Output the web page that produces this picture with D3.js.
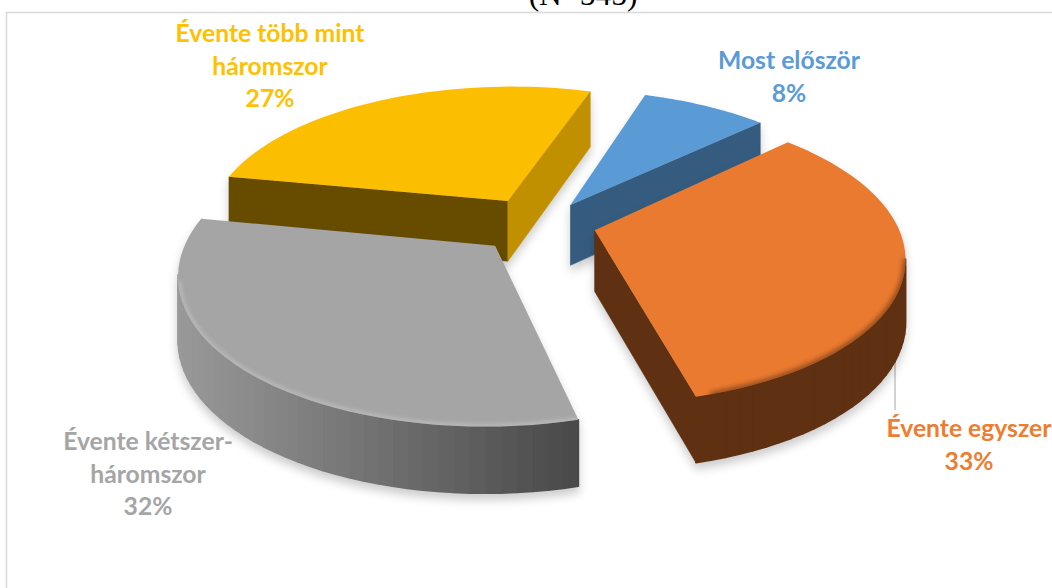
<!DOCTYPE html>
<html><head><meta charset="utf-8">
<script src="https://cdn.jsdelivr.net/npm/d3@7/dist/d3.min.js"></script>
<style>html,body{margin:0;background:#fff}svg{display:block}</style></head>
<body><svg id="c" width="1052" height="588"></svg>
<script>
const categories=["Most először","Évente egyszer","Évente kétszer-háromszor","Évente több mint háromszor"];
const values=[8,33,32,27];
const labelLines=[["Most először","8%"],["Évente egyszer","33%"],["Évente kétszer-","háromszor","32%"],["Évente több mint","háromszor","27%"]];
const topColors=["#5b9bd5","#e97a30","#a5a5a5","#fbbe00"];
const textColors=["#5b9bd5","#ed7d31","#a5a5a5","#ffc000"];
const startSideColors=["#355c7f","#5f3112","#555","#674c00"];
const endSideColors=["#355c7f","#5f3112","#555","#c09000"];
const arcSideFrom=["#355c7f","#5f3112","#4a4a4a","#674c00"];
const arcSideTo=["#355c7f","#5f3112","#959595","#674c00"];
const explode=[0.18,0.18,0.225,0.195];
const nudgeX=[2,2,3,-3];
const nudgeY=[1,-2,-3,-1];
const labelPos=[[789,69],[969,437],[148,450],[270,42]];
const paintOrder=[0,3,1,2];

const cx=540,cy=225,Rx=302,Ry=141,k=0.17,depth=61,startDeg=18;
const svg=d3.select("#c");
const defs=svg.append("defs");
defs.append("filter").attr("id","soft").attr("x","-10%").attr("y","-10%").attr("width","120%").attr("height","120%")
  .append("feGaussianBlur").attr("stdDeviation",2.4);

svg.append("path").attr("d","M1060,12.5H6.5V600").attr("fill","none").attr("stroke","#d9d9d9").attr("stroke-width",1.5);
svg.append("text").text("(N=545)").attr("x",583).attr("y",5).attr("text-anchor","middle")
  .attr("font-family","Liberation Serif").attr("font-size",31.5).attr("fill","#000");
// leader line, behind the slices
svg.append("line").attr("x1",895).attr("x2",895).attr("y1",330).attr("y2",410).attr("stroke","#a6a6a6").attr("stroke-width",1);

const pie=d3.pie().sort(null).startAngle(startDeg*Math.PI/180).endAngle((360+startDeg)*Math.PI/180);
const arcs=pie(values);
const lineGen=d3.line();

arcs.forEach(a=>{a.mid=(a.startAngle+a.endAngle)/2;});
paintOrder.forEach(i=>{
  const a=arcs[i];
  const proj=(X,Y)=>{const w=1+k*Y;return [cx+nudgeX[i]+Rx*X/w,cy+nudgeY[i]-Ry*Y/w];};
  const drop=(X,Y)=>depth*(1-0.08*Y);
  const ox=explode[i]*Math.sin(a.mid),oy=explode[i]*Math.cos(a.mid);
  const n=48;
  const world=d3.range(n+1).map(j=>{const t=a.startAngle+(a.endAngle-a.startAngle)*j/n;return [ox+Math.sin(t),oy+Math.cos(t)];});
  const apex=[ox,oy];
  const top=p=>proj(p[0],p[1]);
  const bot=p=>{const q=proj(p[0],p[1]);return [q[0],q[1]+drop(p[0],p[1])];};
  const g=svg.append("g").attr("class","slice").style("filter","drop-shadow(0px 6px 5px rgba(0,0,0,0.2))");
  const quad=(p,q,fill,sw)=>{
    if(top(q)[0]>=top(p)[0]) return;
    g.append("path").attr("d",lineGen([top(p),top(q),bot(q),bot(p)])+"Z").attr("fill",fill).attr("stroke",fill).attr("stroke-width",sw).attr("stroke-linejoin","round");
  };
  const shadeX=d3.scaleLinear().domain([top(world[0])[0],top(world[n])[0]]).range([arcSideFrom[i],arcSideTo[i]]);
  d3.range(n).forEach(j=>quad(world[j],world[j+1],shadeX(top(world[j])[0]),1.6));
  quad(apex,world[0],startSideColors[i],0.6);
  quad(world[n],apex,endSideColors[i],0.6);
  const poly=[apex,...world].map(top);
  const d=lineGen(poly)+"Z";
  g.append("path").attr("d",d).attr("fill",topColors[i]);
  // soft bevel along the rim of the top face
  if(i===1||i===2){
    const cid="clip"+i;
    defs.append("clipPath").attr("id",cid).append("path").attr("d",d);
    const rim=world.map(top).filter((p,j)=>j<n&&top(world[j+1])[0]<p[0]);
    svg.append("g").attr("clip-path",`url(#${cid})`).append("path")
      .attr("d",lineGen(rim)).attr("fill","none")
      .attr("stroke",i===1?"#5f3112":"#c9c9c9").attr("stroke-width",4).attr("opacity",i===1?0.85:0.8).attr("filter","url(#soft)");
  }
});

labelLines.forEach((lines,i)=>{
  const t=svg.append("text").attr("text-anchor","middle").attr("font-family","Lato, Carlito, sans-serif")
    .attr("font-weight",700).attr("font-size",24.7).attr("fill",textColors[i]);
  lines.forEach((s,j)=>t.append("tspan").attr("x",labelPos[i][0]).attr("y",labelPos[i][1]+j*32.7).text(s));
});
</script></body></html>
